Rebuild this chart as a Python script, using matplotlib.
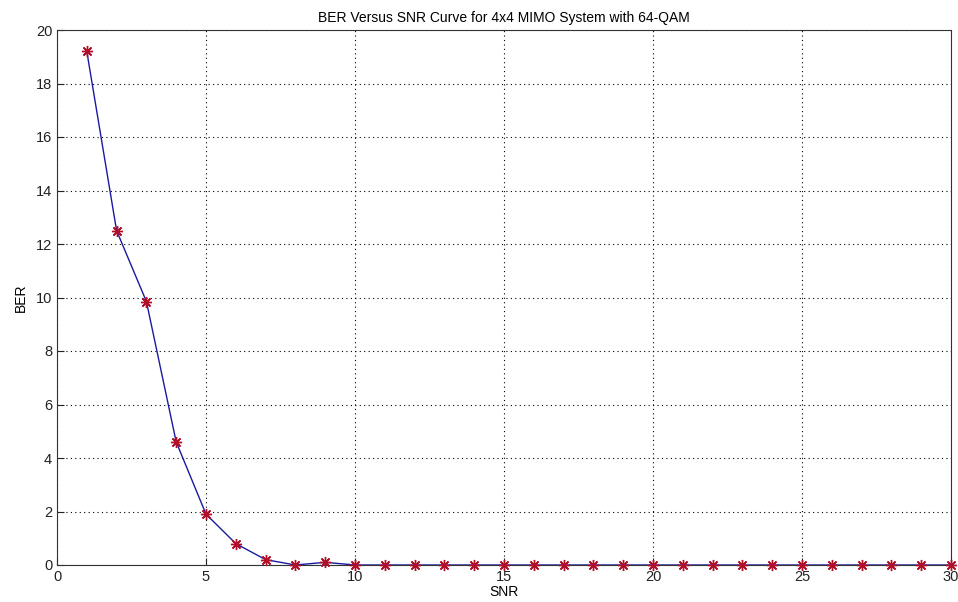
import numpy as np
import matplotlib
matplotlib.use('Agg')
import matplotlib.pyplot as plt

snr = list(range(1, 31))
ber = [19.2, 12.5, 9.85, 4.6, 1.9, 0.8, 0.2, 0.0, 0.1, 0.0] + [0.0] * 20

plt.rcParams['font.family'] = ['Liberation Sans', 'DejaVu Sans']

fig = plt.figure(figsize=(9.58, 6.02), dpi=100)
ax = fig.add_axes([57/958, 37/602, (951-57)/958, (565-30)/602])

ax.plot(snr, ber, color='#1a1aa0', linewidth=1.0, zorder=3)
ax.plot(snr, ber, linestyle='none', marker=(8, 2, 0), color='#b0102a',
        markersize=8, markeredgewidth=1.0, zorder=4, clip_on=False)

ax.set_xlim(0, 30)
ax.set_ylim(0, 20)
ax.set_xticks(np.arange(0, 31, 5))
ax.set_yticks(np.arange(0, 21, 2))
ax.tick_params(direction='in', length=5, labelsize=10.5, colors='#222222')
ax.grid(True, linestyle=(0, (1, 3)), color='black', linewidth=0.8)
for s in ax.spines.values():
    s.set_color('#333333')

ax.set_title('BER Versus SNR Curve for 4x4 MIMO System with 64-QAM', fontsize=10, pad=6)
ax.set_xlabel('SNR', fontsize=10, labelpad=1)
ax.set_ylabel('BER', fontsize=10, labelpad=6)

fig.savefig('out.png', dpi=100)
